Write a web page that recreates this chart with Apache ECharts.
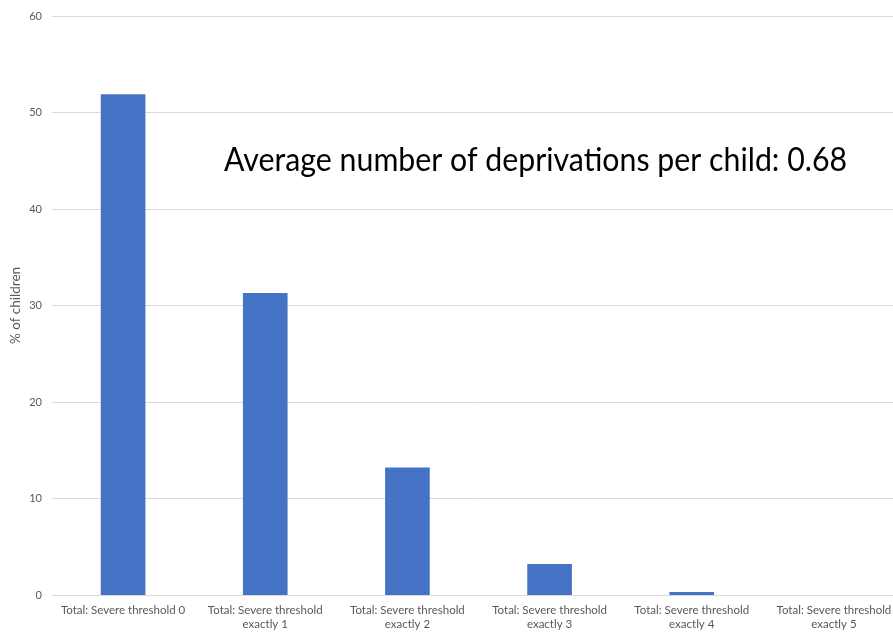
<!DOCTYPE html>
<html>
<head>
<meta charset="utf-8">
<script src="https://cdn.jsdelivr.net/npm/echarts@6/dist/echarts.min.js"></script>
<style>
  html, body { margin: 0; padding: 0; background: #ffffff; overflow: hidden; }
  /* the plot continues a little beyond the visible right edge */
  #chart { width: 905px; height: 635px; }
</style>
</head>
<body>
<div id="chart"></div>
<script>
// Share of children by number of severe deprivations
const categories = [
  'Total: Severe threshold 0',
  'Total: Severe threshold\nexactly 1',
  'Total: Severe threshold\nexactly 2',
  'Total: Severe threshold\nexactly 3',
  'Total: Severe threshold\nexactly 4',
  'Total: Severe threshold\nexactly 5'
];
const percentChildren = [51.9, 31.3, 13.2, 3.2, 0.3, 0];
const yTicks = { min: 0, max: 60, interval: 10 };
const yAxisName = '% of children';
const noteText = 'Average number of deprivations per child: 0.68';

const chart = echarts.init(document.getElementById('chart'), null, { renderer: 'canvas' });

const textFont = 'Lato, "Open Sans", "Liberation Sans", sans-serif';

chart.setOption({
  animation: false,
  backgroundColor: '#ffffff',
  grid: { left: 52, top: 16, bottom: 40, right: 0, containLabel: false, outerBoundsMode: 'none' },
  xAxis: {
    type: 'category',
    data: categories,
    axisLine: { show: true, lineStyle: { color: '#d9d9d9', width: 1 } },
    axisTick: { show: false },
    axisLabel: {
      interval: 0,
      color: '#595959',
      fontFamily: textFont,
      fontSize: 11.5,
      lineHeight: 14,
      margin: 8
    }
  },
  yAxis: {
    type: 'value',
    min: yTicks.min,
    max: yTicks.max,
    interval: yTicks.interval,
    name: yAxisName,
    nameLocation: 'middle',
    nameRotate: 90,
    nameGap: 29,
    nameMoveOverlap: false,
    nameTextStyle: { color: '#595959', fontFamily: textFont, fontSize: 13.5 },
    axisLine: { show: false },
    axisTick: { show: false },
    splitLine: { lineStyle: { color: '#d9d9d9', width: 1 } },
    axisLabel: { color: '#595959', fontFamily: textFont, fontSize: 11, margin: 10 }
  },
  series: [{
    type: 'bar',
    data: percentChildren,
    barWidth: '31.4%',
    itemStyle: { color: '#4472C4' }
  }],
  graphic: [{
    type: 'text',
    x: 224,
    y: 144,
    scaleY: 1.1,
    style: {
      text: noteText,
      fill: '#000000',
      font: '30.3px ' + textFont,
      verticalAlign: 'top'
    }
  }]
});
</script>
</body>
</html>
